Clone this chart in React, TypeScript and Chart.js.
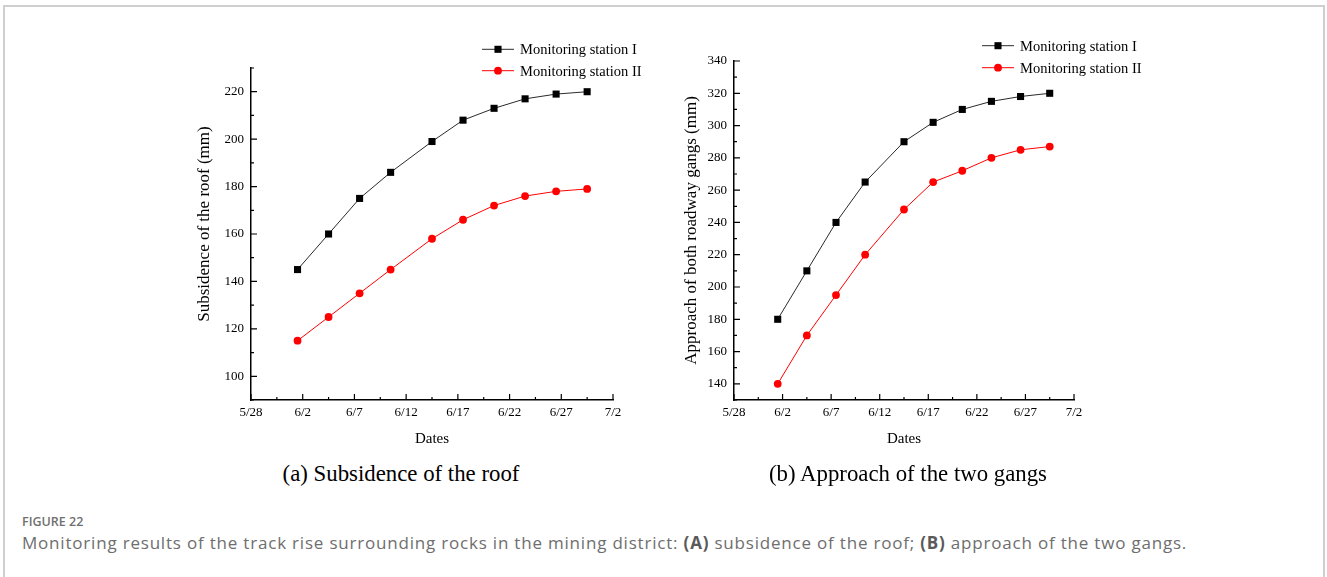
import React, { useEffect, useRef } from 'react';
import { Chart, registerables } from 'chart.js';

Chart.register(...registerables);

// ---- data ----
const xTickLabels = ['5/28', '6/2', '6/7', '6/12', '6/17', '6/22', '6/27', '7/2'];
// measurement times, in days after 5/28
const dayOffsets = [4.5, 7.5, 10.5, 13.5, 17.5, 20.5, 23.5, 26.5, 29.5, 32.5];
const seriesNames = ['Monitoring station I', 'Monitoring station II'];
const roofStation1 = [145, 160, 175, 186, 199, 208, 213, 217, 219, 220];
const roofStation2 = [115, 125, 135, 145, 158, 166, 172, 176, 178, 179];
const gangStation1 = [180, 210, 240, 265, 290, 302, 310, 315, 318, 320];
const gangStation2 = [140, 170, 195, 220, 248, 265, 272, 280, 285, 287];

const SERIF = '"Liberation Serif", "Times New Roman", serif';

const isMajor = (v: number, step: number) => Math.abs(v / step - Math.round(v / step)) < 1e-6;

const innerTicks = {
  id: 'innerTicks',
  afterDraw(chart: any, _args: any, o: any) {
    const ctx = chart.ctx;
    const { left, bottom } = chart.chartArea;
    const xs = chart.scales.x;
    const ys = chart.scales.y;
    ctx.save();
    ctx.strokeStyle = '#000';
    ctx.lineWidth = 1.2;
    ctx.beginPath();
    xs.ticks.forEach((t: any) => {
      const px = xs.getPixelForValue(t.value);
      const len = isMajor(t.value, o.xMajor) ? 6 : 3;
      ctx.moveTo(px, bottom);
      ctx.lineTo(px, bottom - len);
    });
    ys.ticks.forEach((t: any) => {
      const py = ys.getPixelForValue(t.value);
      const len = isMajor(t.value, o.yMajor) ? 6 : 3;
      ctx.moveTo(left, py);
      ctx.lineTo(left + len, py);
    });
    ctx.stroke();
    ctx.restore();
  },
};

// vertical y-axis title, placed at a given x inside the canvas and shifted along the axis
const yTitle = {
  id: 'yTitle',
  afterDraw(chart: any, _args: any, o: any) {
    const ctx = chart.ctx;
    const { top, bottom } = chart.chartArea;
    ctx.save();
    ctx.translate(o.x, (top + bottom) / 2 + o.dy);
    ctx.rotate(-Math.PI / 2);
    ctx.fillStyle = '#000';
    ctx.font = `17px ${SERIF}`;
    ctx.textAlign = 'center';
    ctx.textBaseline = 'middle';
    ctx.fillText(o.text, 0, 0);
    ctx.restore();
  },
};

const lineLegend = {
  id: 'lineLegend',
  afterDraw(chart: any, _args: any, o: any) {
    const ctx = chart.ctx;
    const { left, top } = chart.chartArea;
    ctx.save();
    chart.data.datasets.forEach((ds: any, i: number) => {
      const x0 = left + o.dx;
      const y = top + o.dy + i * o.rowGap;
      ctx.strokeStyle = ds.borderColor;
      ctx.lineWidth = 1;
      ctx.beginPath();
      ctx.moveTo(x0, y);
      ctx.lineTo(x0 + 32, y);
      ctx.stroke();
      const cx = x0 + 16;
      ctx.fillStyle = ds.pointBackgroundColor;
      if (ds.pointStyle === 'rect') {
        const s = ds.pointRadius * Math.SQRT1_2;
        ctx.fillRect(cx - s, y - s, 2 * s, 2 * s);
      } else {
        ctx.beginPath();
        ctx.arc(cx, y, ds.pointRadius, 0, Math.PI * 2);
        ctx.fill();
      }
      ctx.fillStyle = '#000';
      ctx.font = `14.5px ${SERIF}`;
      ctx.textBaseline = 'middle';
      ctx.textAlign = 'left';
      ctx.fillText(ds.label, x0 + 38, y + 1);
    });
    ctx.restore();
  },
};

function makeConfig(p: any) {
  const toPts = (vals: number[]) => vals.map((v, i) => ({ x: dayOffsets[i], y: v }));
  return {
    type: 'line',
    data: {
      datasets: [
        {
          label: seriesNames[0],
          data: toPts(p.s1),
          borderColor: '#2a2a2a',
          borderWidth: 1,
          pointStyle: 'rect',
          pointRadius: 5,
          pointBackgroundColor: '#000',
          pointBorderWidth: 0,
          tension: 0,
        },
        {
          label: seriesNames[1],
          data: toPts(p.s2),
          borderColor: '#ff0000',
          borderWidth: 1,
          pointStyle: 'circle',
          pointRadius: 3.9,
          pointBackgroundColor: '#ff0000',
          pointBorderWidth: 0,
          tension: 0,
        },
      ],
    },
    options: {
      responsive: false,
      animation: false,
      events: [],
      layout: { padding: p.padding },
      plugins: {
        legend: { display: false },
        tooltip: { enabled: false },
        innerTicks: { xMajor: 5, yMajor: 20 },
        lineLegend: p.legend,
        yTitle: p.yTitle,
      },
      scales: {
        x: {
          type: 'linear',
          min: 0,
          max: 35,
          grid: { display: false, drawTicks: false },
          border: { display: true, color: '#000', width: 1.5 },
          ticks: {
            stepSize: 2.5,
            autoSkip: false,
            maxRotation: 0,
            padding: 5,
            color: '#000',
            font: { family: SERIF, size: 13 },
            callback: (v: number) => (isMajor(v, 5) ? xTickLabels[Math.round(v / 5)] : ''),
          },
          title: {
            display: true,
            text: 'Dates',
            color: '#000',
            font: { family: SERIF, size: 15 },
            padding: { top: 0, bottom: 12 },
          },
          afterFit: (s: any) => {
            s.height = 60;
          },
        },
        y: {
          type: 'linear',
          min: p.yMin,
          max: p.yMax,
          grid: { display: false, drawTicks: false },
          border: { display: true, color: '#000', width: 1.5 },
          ticks: {
            stepSize: 10,
            autoSkip: false,
            padding: 7,
            color: '#000',
            font: { family: SERIF, size: 13 },
            callback: (v: number) => (isMajor(v, 20) ? String(v) : ''),
          },
          title: { display: false, text: p.yTitle.text },
          afterFit: (s: any) => {
            s.width = p.yWidth;
          },
        },
      },
    },
    plugins: [innerTicks, lineLegend, yTitle],
  };
}

function LineChart(props: { cfg: any; left: number; top: number; width: number; height: number }) {
  const ref = useRef<HTMLCanvasElement | null>(null);
  useEffect(() => {
    if (!ref.current) return;
    const chart = new Chart(ref.current, props.cfg);
    return () => chart.destroy();
  }, []);
  return (
    <canvas
      ref={ref}
      width={props.width}
      height={props.height}
      style={{ position: 'absolute', left: props.left, top: props.top, width: props.width, height: props.height }}
    />
  );
}

const cfgA = makeConfig({
  s1: roofStation1,
  s2: roofStation2,
  yMin: 90,
  yMax: 230,
  yTitle: { text: 'Subsidence of the roof (mm)', x: 55, dy: -10 },
  yWidth: 101,
  padding: { left: 0, top: 28, right: 37, bottom: 0 },
  legend: { dx: 231, dy: -18.7, rowGap: 21.4 },
});

const cfgB = makeConfig({
  s1: gangStation1,
  s2: gangStation2,
  yMin: 130,
  yMax: 340,
  yTitle: { text: 'Approach of both roadway gangs (mm)', x: 61.5, dy: 0 },
  yWidth: 104,
  padding: { left: 0, top: 31, right: 76, bottom: 0 },
  legend: { dx: 248, dy: -15.3, rowGap: 22 },
});

export default function App() {
  const sub: React.CSSProperties = {
    position: 'absolute',
    top: 462,
    fontFamily: SERIF,
    fontSize: 22.8,
    lineHeight: '24px',
    color: '#000',
    transform: 'translateX(-50%)',
    whiteSpace: 'nowrap',
  };
  return (
    <div style={{ position: 'absolute', left: 0, top: 0, width: 1327, height: 577, background: '#fff', overflow: 'hidden' }}>
      <div
        style={{
          position: 'absolute',
          left: 3,
          top: 5,
          width: 1322,
          height: 600,
          borderTop: '2px solid #cfcfcf',
          borderLeft: '2px solid #cfcfcf',
          borderRight: '2px solid #cfcfcf',
          boxSizing: 'border-box',
        }}
      />
      <LineChart cfg={cfgA} left={150} top={40} width={500} height={420} />
      <LineChart cfg={cfgB} left={630} top={30} width={520} height={430} />
      <div style={{ ...sub, left: 401 }}>(a) Subsidence of the roof</div>
      <div style={{ ...sub, left: 908 }}>(b) Approach of the two gangs</div>
      <div
        style={{
          position: 'absolute',
          left: 22,
          top: 513,
          fontFamily: '"Open Sans", sans-serif',
          fontWeight: 600,
          fontSize: 12.5,
          lineHeight: '18px',
          color: '#707070',
        }}
      >
        FIGURE 22
      </div>
      <div
        style={{
          position: 'absolute',
          left: 22,
          top: 532,
          fontFamily: '"Open Sans", sans-serif',
          fontWeight: 400,
          fontSize: 17,
          letterSpacing: '0.8px',
          lineHeight: '22px',
          color: '#6e6e6e',
          whiteSpace: 'nowrap',
        }}
      >
        Monitoring results of the track rise surrounding rocks in the mining district:{' '}
        <b style={{ fontWeight: 700, color: '#5a5a5a' }}>(A)</b> subsidence of the roof;{' '}
        <b style={{ fontWeight: 700, color: '#5a5a5a' }}>(B)</b> approach of the two gangs.
      </div>
    </div>
  );
}
